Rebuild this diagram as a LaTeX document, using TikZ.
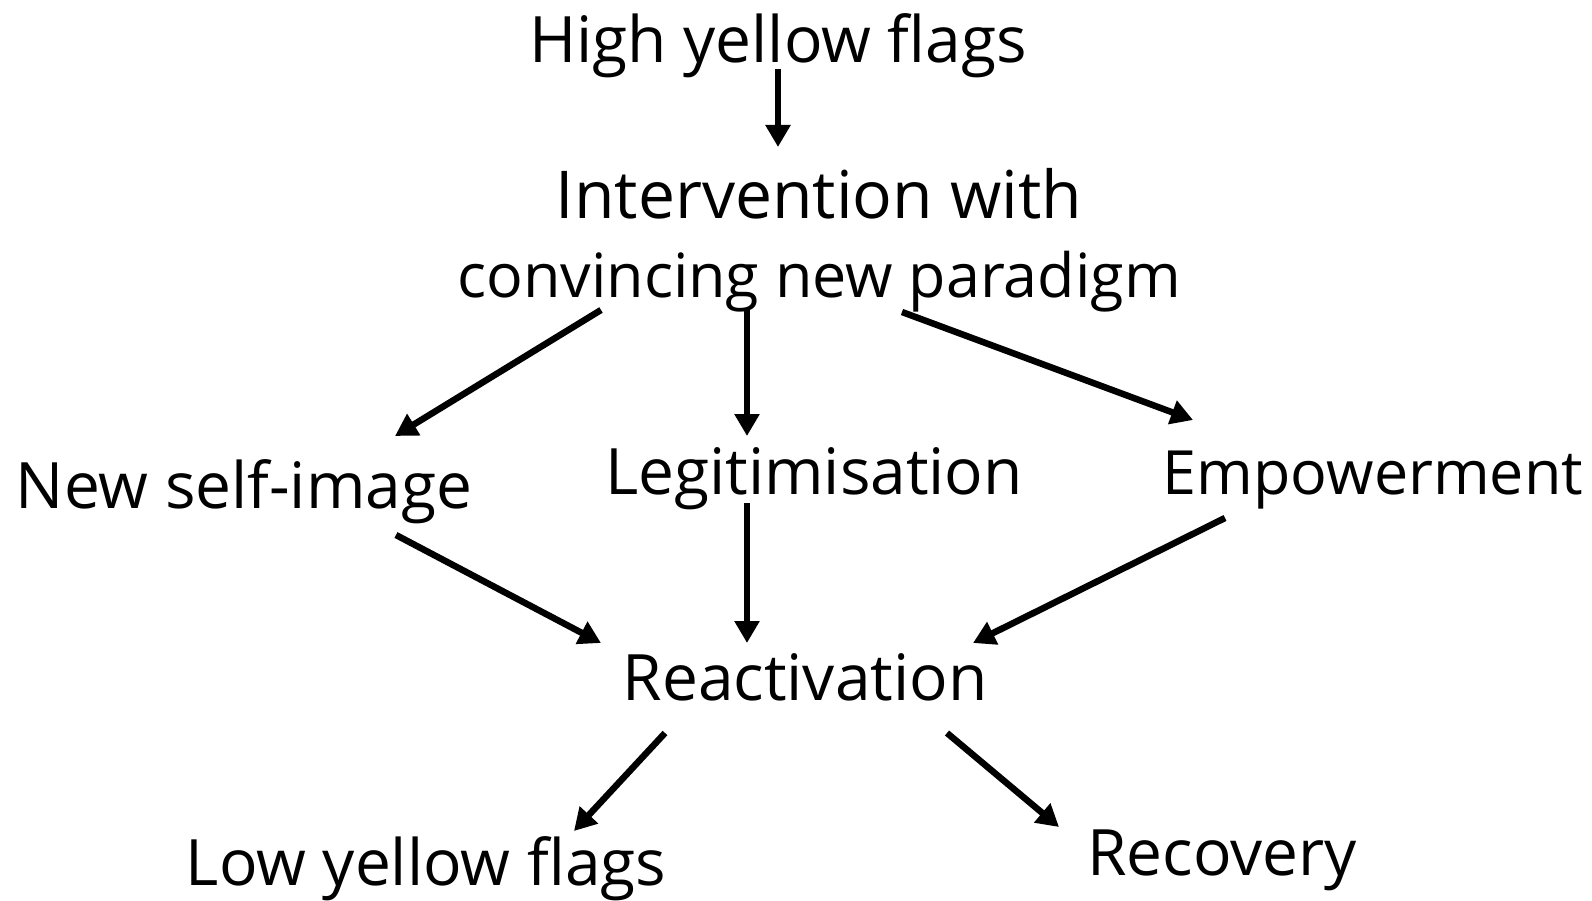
\documentclass[tikz,border=0pt]{standalone}
\usepackage{fontspec}
\setmainfont{Open Sans}
\usetikzlibrary{arrows.meta}
\tikzset{
  lbl/.style={anchor=base, inner sep=0pt, font=\fontsize{64}{79}\selectfont, text=black},
  arr/.style={line width=6.5pt, -{Triangle[length=22pt,width=24pt]}},
}
\begin{document}
\begin{tikzpicture}[x=1pt,y=-1pt]
\useasboundingbox (0,0) rectangle (1592,901);
\node[lbl] (hyf) at (778,63) {High yellow flags};
\node[lbl, anchor=north, align=center, font=\fontsize{63}{79}\selectfont] (int) at (819,168) {\fontsize{66}{79}\selectfont Intervention with\\\fontsize{61}{79}\selectfont convincing new paradigm};
\node[lbl] (nsi) at (244,508) {New self-image};
\node[lbl] (leg) at (814,494) {Legitimisation};
\node[lbl, font=\fontsize{61}{79}\selectfont] (emp) at (1373,494) {Empowerment};
\node[lbl] (rea) at (805,700) {Reactivation};
\node[lbl] (lyf) at (426,885) {Low yellow flags};
\node[lbl] (rec) at (1222,875) {Recovery};
% connector end points
\coordinate (hyf-o) at (778,69);   \coordinate (int-i) at (778,147);
\coordinate (int-o1) at (601,310); \coordinate (nsi-i) at (395,436);
\coordinate (int-o2) at (747,310); \coordinate (leg-i) at (747,436);
\coordinate (int-o3) at (902,312); \coordinate (emp-i) at (1193,420);
\coordinate (nsi-o) at (396,535);  \coordinate (rea-i1) at (601,643);
\coordinate (leg-o) at (747,503);  \coordinate (rea-i2) at (747,643);
\coordinate (emp-o) at (1225,518); \coordinate (rea-i3) at (973,643);
\coordinate (rea-o1) at (665,733); \coordinate (lyf-i) at (574,831);
\coordinate (rea-o2) at (947,733); \coordinate (rec-i) at (1059,827);
\draw[arr] (hyf-o) -- (int-i);
\draw[arr] (int-o1) -- (nsi-i);
\draw[arr] (int-o2) -- (leg-i);
\draw[arr] (int-o3) -- (emp-i);
\draw[arr] (nsi-o) -- (rea-i1);
\draw[arr] (leg-o) -- (rea-i2);
\draw[arr] (emp-o) -- (rea-i3);
\draw[arr] (rea-o1) -- (lyf-i);
\draw[arr] (rea-o2) -- (rec-i);
\end{tikzpicture}
\end{document}
